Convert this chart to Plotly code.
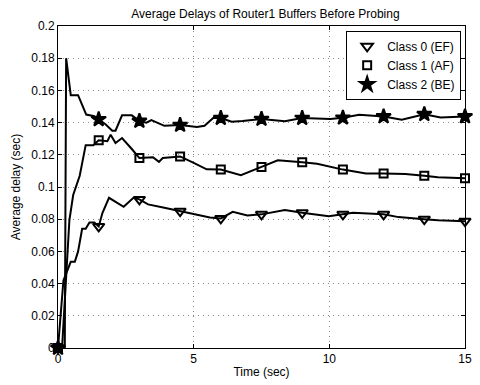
import plotly.graph_objects as go

# ---- data ----
t_ef = [0, 0.2, 0.47, 0.62, 0.74, 0.89, 1.02, 1.16, 1.34, 1.5, 1.64, 1.88, 2.42, 2.78, 3.0,
        3.32, 3.92, 4.5, 5.0, 5.6, 6.0, 6.44, 6.98, 7.5, 8.36, 9.0, 9.98, 10.5, 10.87, 12.0,
        12.55, 13.5, 14.0, 15.0]
d_ef = [0, 0.042, 0.0535, 0.0535, 0.060, 0.0741, 0.0741, 0.078, 0.078, 0.0755, 0.084, 0.0933,
        0.0877, 0.0933, 0.0923, 0.0892, 0.0871, 0.085, 0.083, 0.081, 0.0805, 0.0846, 0.0823,
        0.083, 0.0857, 0.084, 0.0819, 0.083, 0.084, 0.083, 0.0813, 0.080, 0.0794, 0.0788]

t_af = [0, 0.15, 0.42, 0.56, 0.8, 1.02, 1.3, 1.5, 1.82, 1.94, 2.12, 2.36, 2.72, 3.0, 3.5,
        3.72, 3.86, 4.5, 5.0, 5.48, 6.0, 6.74, 7.5, 8.1, 9.0, 9.55, 10.5, 11.35, 12.0, 12.8,
        13.5, 14.0, 15.0]
d_af = [0, 0, 0.0795, 0.095, 0.107, 0.126, 0.126, 0.129, 0.1284, 0.1325, 0.1273, 0.1304,
        0.1236, 0.118, 0.1185, 0.1156, 0.118, 0.119, 0.115, 0.111, 0.1108, 0.1073, 0.1125,
        0.1166, 0.1154, 0.1145, 0.1108, 0.1084, 0.1084, 0.108, 0.107, 0.106, 0.1055]

t_be = [0, 0.25, 0.3, 0.47, 0.74, 1.04, 1.34, 1.5, 1.75, 2.0, 2.12, 2.36, 2.72, 3.0, 3.26,
        3.44, 3.92, 4.5, 5.12, 5.4, 5.72, 6.0, 6.4, 6.8, 7.5, 8.36, 9.0, 10.04, 10.5, 11.1,
        12.0, 12.67, 13.5, 14.1, 15.0]
d_be = [0, 0, 0.180, 0.157, 0.157, 0.145, 0.144, 0.142, 0.139, 0.135, 0.135, 0.1445, 0.1445,
        0.141, 0.140, 0.1415, 0.138, 0.1385, 0.1372, 0.138, 0.1428, 0.1428, 0.1405, 0.141,
        0.1422, 0.1408, 0.1428, 0.1422, 0.143, 0.1448, 0.1438, 0.1418, 0.1452, 0.1432, 0.1438]

marker_times = [0, 1.5, 3.0, 4.5, 6.0, 7.5, 9.0, 10.5, 12.0, 13.5, 15.0]

names = ["Class 0 (EF)", "Class 1 (AF)", "Class 2 (BE)"]
symbols = ["triangle-down-open", "square-open", "star"]
msizes = [10, 8, 11]

series = [(t_ef, d_ef), (t_af, d_af), (t_be, d_be)]

fig = go.Figure()
for (t, d) in series:
    fig.add_trace(go.Scatter(x=t, y=d, mode="lines", line=dict(color="black", width=2),
                             showlegend=False, hoverinfo="skip", cliponaxis=False))
for (t, d), name, sym, ms in zip(series, names, symbols, msizes):
    mx = [tt for tt in t if tt in marker_times]
    my = [dd for tt, dd in zip(t, d) if tt in marker_times]
    fig.add_trace(go.Scatter(x=mx, y=my, mode="markers", name=name, cliponaxis=False,
                             marker=dict(symbol=sym, size=ms, color="black",
                                         line=dict(color="black", width=2))))

axis_common = dict(showline=True, linecolor="black", linewidth=1, mirror="ticks",
                   ticks="inside", ticklen=4, tickcolor="black",
                   showgrid=True, gridcolor="#888", griddash="1px,4px", gridwidth=1,
                   zeroline=False, tickfont=dict(size=12, color="black"))

fig.update_layout(
    width=480, height=385,
    margin=dict(l=58, r=8, t=26, b=36),
    paper_bgcolor="white", plot_bgcolor="white",
    font=dict(family="Liberation Sans, Arial, sans-serif", color="black", size=12),
    title=dict(text="Average Delays of Router1 Buffers Before Probing",
               x=0.553, xanchor="center", y=0.965, yanchor="middle",
               font=dict(size=12)),
    xaxis=dict(range=[0, 15], tickvals=[0, 5, 10, 15],
               title=dict(text="Time (sec)", font=dict(size=12), standoff=2), **axis_common),
    yaxis=dict(range=[0, 0.2], tickvals=[0, 0.02, 0.04, 0.06, 0.08, 0.1, 0.12, 0.14, 0.16, 0.18, 0.2],
               ticktext=["0", "0.02", "0.04", "0.06", "0.08", "0.1", "0.12", "0.14", "0.16", "0.18", "0.2"],
               title=dict(text="Average delay (sec)", font=dict(size=12), standoff=8), **axis_common),
    legend=dict(x=0.708, y=0.985, xanchor="left", yanchor="top",
                bordercolor="black", borderwidth=1, bgcolor="white",
                font=dict(size=12), tracegroupgap=0, itemwidth=30),
)

fig.write_html("out.html")
